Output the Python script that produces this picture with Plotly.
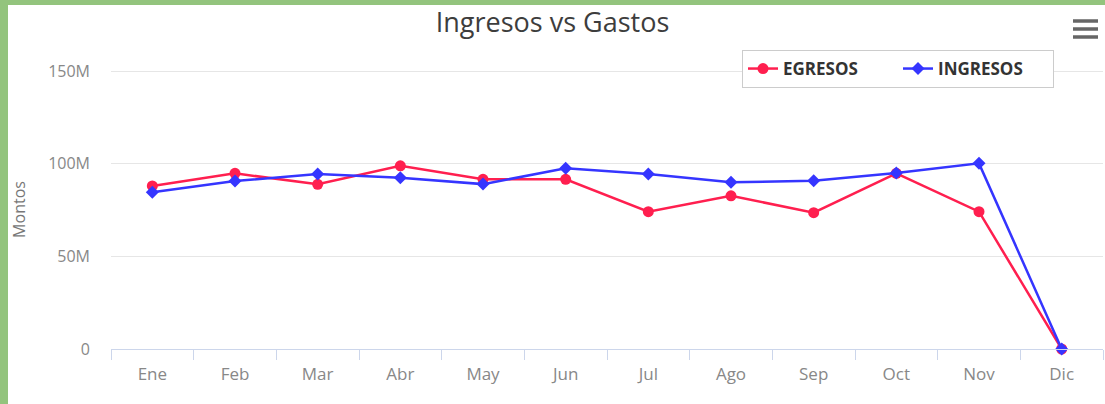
import plotly.graph_objects as go

meses = ["Ene", "Feb", "Mar", "Abr", "May", "Jun", "Jul", "Ago", "Sep", "Oct", "Nov", "Dic"]
egresos = [88.0e6, 94.8e6, 88.9e6, 98.9e6, 91.6e6, 91.6e6, 74.1e6, 82.7e6, 73.6e6, 94.8e6, 74.1e6, 0]
ingresos = [84.6e6, 90.7e6, 94.4e6, 92.5e6, 89.0e6, 97.5e6, 94.4e6, 90.0e6, 90.8e6, 95.0e6, 100.2e6, 0]
y_ticks = [0, 50e6, 100e6, 150e6]
y_tick_labels = ["0", "50M", "100M", "150M"]

RED = "#ff1f4f"
BLUE = "#3535ff"
FONT = "Open Sans"

# plot area in pixels: x 111..1103, y 70..349
W, H = 1105, 404
L, R, T, B = 111, 2, 70, 55
PW, PH = W - L - R, H - T - B


def px_x(p):
    return (p - L) / PW


def px_y(p):
    return (H - B - p) / PH


fig = go.Figure()
fig.add_trace(
    go.Scatter(
        x=meses,
        y=egresos,
        mode="lines+markers",
        name="EGRESOS",
        line=dict(color=RED, width=2.5),
        marker=dict(symbol="circle", size=11, color=RED),
        cliponaxis=False,
    )
)
fig.add_trace(
    go.Scatter(
        x=meses,
        y=ingresos,
        mode="lines+markers",
        name="INGRESOS",
        line=dict(color=BLUE, width=2.5),
        marker=dict(symbol="diamond", size=10, color=BLUE),
        cliponaxis=False,
    )
)

shapes = [
    # green frame (left and top)
    dict(type="rect", xref="paper", yref="paper", x0=px_x(0), x1=px_x(8), y0=px_y(404), y1=px_y(0),
         fillcolor="#93c47d", line=dict(width=0), layer="above"),
    dict(type="rect", xref="paper", yref="paper", x0=px_x(0), x1=px_x(1105), y0=px_y(5), y1=px_y(0),
         fillcolor="#93c47d", line=dict(width=0), layer="above"),
]
# hamburger menu icon
for yy in (21, 29, 37):
    shapes.append(
        dict(type="line", xref="paper", yref="paper", x0=px_x(1073), x1=px_x(1098), y0=px_y(yy), y1=px_y(yy),
             line=dict(color="#666666", width=3.5))
    )

fig.update_layout(
    width=W,
    height=H,
    margin=dict(l=L, r=R, t=T, b=B),
    paper_bgcolor="white",
    plot_bgcolor="white",
    font=dict(family=FONT, color="#777777"),
    title=dict(
        text="Ingresos vs Gastos",
        x=0.5,
        xref="container",
        xanchor="center",
        y=1 - 23 / H,
        yanchor="middle",
        font=dict(size=27, color="#3d3d3d", family=FONT),
    ),
    legend=dict(
        orientation="h",
        x=px_x(742),
        y=px_y(50),
        xanchor="left",
        yanchor="top",
        bgcolor="white",
        bordercolor="#cccccc",
        borderwidth=1,
        font=dict(size=17, color="#333333", family=FONT, weight="bold"),
        entrywidth=110,
        entrywidthmode="pixels",
    ),
    xaxis=dict(
        type="category",
        tickson="boundaries",
        ticks="outside",
        ticklen=10,
        tickcolor="#ccd6eb",
        showline=True,
        linecolor="#ccd6eb",
        linewidth=1,
        showgrid=False,
        tickfont=dict(size=17, color="#888888"),
        ticklabelstandoff=10,
        range=[-0.5, 11.5],
    ),
    yaxis=dict(
        range=[0, 150.6e6],
        tickvals=y_ticks,
        ticktext=y_tick_labels,
        gridcolor="#e6e6e6",
        zeroline=False,
        showline=False,
        tickfont=dict(size=16, color="#888888"),
        ticklabelstandoff=20,
        title=dict(text="Montos", font=dict(size=16, color="#777777"), standoff=18),
    ),
    shapes=shapes,
)

fig.write_html(
    "out.html",
    config={"displayModeBar": False},
    post_script="document.body.style.margin = '0px';",
)
